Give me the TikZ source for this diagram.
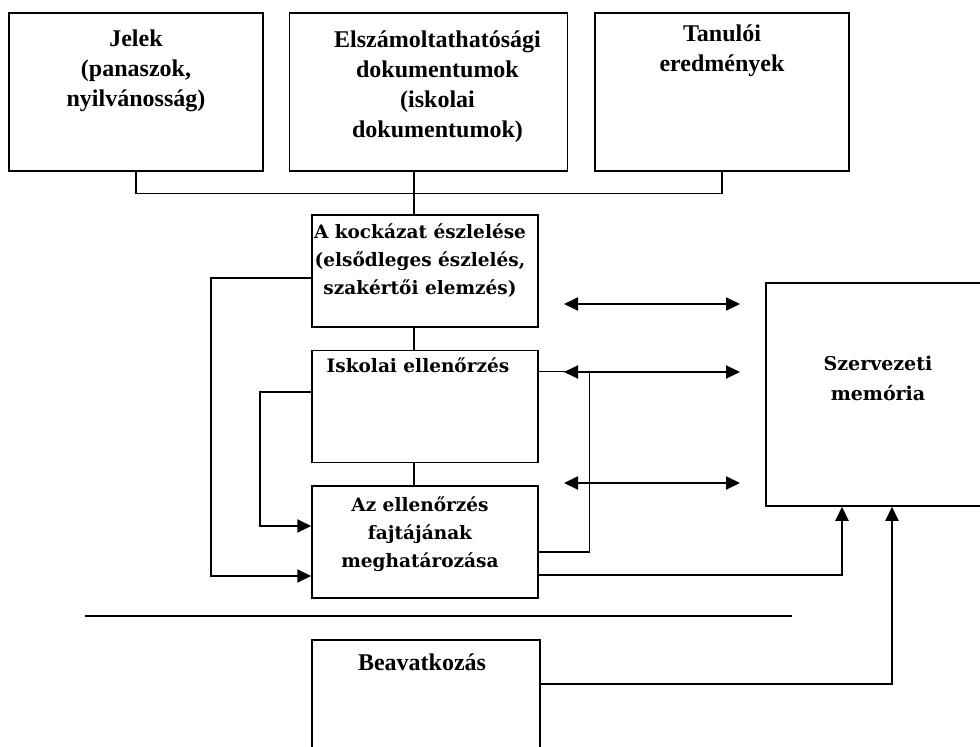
\documentclass[tikz,border=0pt]{standalone}
\usepackage{fontspec}
\newfontfamily\timesfont{Liberation Serif}
\newfontfamily\slabfont{DejaVu Serif}
\usetikzlibrary{positioning, arrows.meta, calc}

\begin{document}
\begin{tikzpicture}[x=1pt, y=-1pt, >={Triangle[length=14pt,width=13pt]},
  box/.style={draw, line width=1.5pt, minimum width=226pt, minimum height=112pt, inner sep=0pt},
  srcbox/.style={draw, line width=1.5pt, minimum width=254pt, minimum height=158pt, inner sep=0pt},
  srctext/.style={align=center, inner sep=0pt, font=\timesfont\bfseries\fontsize{24}{30}\selectfont},
  midtext/.style={align=center, inner sep=0pt, font=\slabfont\bfseries\fontsize{18.5}{28}\selectfont},
  link/.style={line width=1.4pt},
  arr/.style={->, line width=2pt}]

\useasboundingbox (0,0) rectangle (980,747);

% Sources (top row)
\node (jelek) [srcbox] at (136,92) {};
\node (elsz) [srcbox, minimum width=278pt, right=25pt of jelek] {};
\node (tanuloi) [srcbox, right=26pt of elsz] {};

\node (jelekt) [srctext, below=17pt of jelek.north] {Jelek\\(panaszok,\\nyilvánosság)};
\node (elszt) [srctext, below=18pt of elsz.north, xshift=9pt] {Elszámoltathatósági\\dokumentumok\\(iskolai\\dokumentumok)};
\node (tanuloit) [srctext, below=12pt of tanuloi.north] {Tanulói\\eredmények};

% Middle column
\node (kockazat) [box] at (425,271) {};
\node (iskolai) [box, below=22pt of kockazat] {};
\node (fajta) [box, below=22pt of iskolai] {};

\node (kockazatt) [midtext, below=9pt of kockazat.north, xshift=-5pt] {A kockázat észlelése\\(elsődleges észlelés,\\szakértői elemzés)};
\node (iskolait) [midtext, below=8pt of iskolai.north, xshift=-7pt] {Iskolai ellenőrzés};
\node (fajtat) [midtext, below=11pt of fajta.north, xshift=-5pt] {Az ellenőrzés\\fajtájának\\meghatározása};

% Memory
\node (szerv) [box, minimum width=224pt, minimum height=223pt] at (878,394.5) {};
\node (szervt) [midtext, font=\slabfont\bfseries\fontsize{19}{30}\selectfont] at (878,378) {Szervezeti\\memória};

% Intervention
\draw[link] (85,616) -- (792,616);
\node (beavat) [box, minimum width=228pt, minimum height=120pt] at (426,700) {};
\node (beavatt) [srctext, below=14pt of beavat.north, xshift=-4pt] {Beavatkozás};

% Bus and column links
\draw[link] (jelek.south) -- ++(0,22) -| (tanuloi.south);
\draw[link] ([xshift=-11pt]kockazat.north) -- ([xshift=-11pt]kockazat.north |- elsz.south);
\draw[link] ([xshift=-11pt]kockazat.south) -- ([xshift=-11pt]iskolai.north);
\draw[link] ([xshift=-11pt]iskolai.south) -- ([xshift=-11pt]fajta.north);

% Feedback loops
\draw[arr] ($(kockazat.west)+(0,7)$) -- ++(-100,0) |- ($(fajta.west)+(0,34)$);
\draw[arr] ($(iskolai.west)+(0,-15)$) -- ++(-51,0) |- ($(fajta.west)+(0,-16)$);
\draw[link] ($(fajta.east)+(0,10)$) -- ++(51,0) |- ($(iskolai.east)+(0,-35)$);

% Exchange with memory
\foreach \y/\n in {304/a, 372/b, 483/c} {
  \coordinate (l\n) at (564,\y);
  \coordinate (r\n) at (740,\y);
  \draw[arr, <->] (l\n) -- (r\n);
}

\draw[arr] ($(fajta.east)+(0,33)$) -| ($(szerv.south)+(-36,0)$);
\draw[arr] ($(beavat.east)+(0,-16)$) -| ($(szerv.south)+(14,0)$);

\end{tikzpicture}
\end{document}
